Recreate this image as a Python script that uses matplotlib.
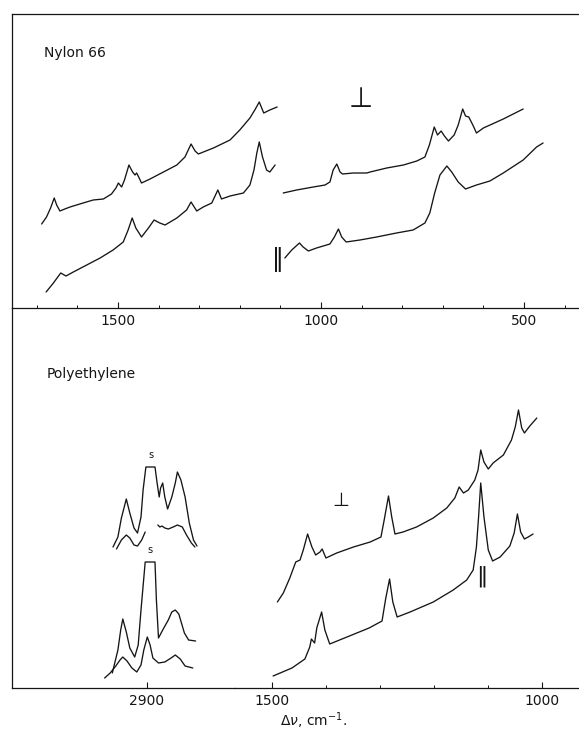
import matplotlib
matplotlib.use("Agg")
import matplotlib.pyplot as plt
from matplotlib.ticker import FixedLocator, NullFormatter

# ---------------- Nylon 66 (wavenumber cm-1, intensity a.u.) ----------------
nylon_perp_low_wn = [1688, 1676, 1666, 1657, 1651, 1643, 1631, 1618, 1594, 1561, 1536, 1516, 1505,
                     1499, 1491, 1484, 1473, 1464, 1458, 1454, 1449, 1442, 1421, 1388, 1355, 1335,
                     1320, 1310, 1302, 1265, 1224, 1200, 1175, 1163, 1152, 1141, 1126, 1108]
nylon_perp_low_int = [84, 91, 100, 110, 103, 97, 99, 101, 104, 108, 109, 114, 120,
                      125, 121, 128, 143, 136, 133, 135, 131, 125, 129, 136, 143, 151,
                      164, 157, 154, 160, 168, 178, 190, 198, 206, 195, 198, 201]

nylon_perp_high_wn = [1093, 1060, 1019, 990, 978, 970, 961, 953, 947, 920, 887, 879, 838, 797, 764,
                      744, 733, 721, 713, 704, 696, 686, 672, 662, 651, 644, 636, 626, 617, 600,
                      551, 502]
nylon_perp_high_int = [115, 118, 121, 123, 126, 138, 144, 136, 134, 135, 135, 136, 140, 143, 147,
                       151, 163, 181, 173, 177, 172, 167, 173, 183, 199, 192, 191, 183, 175, 180,
                       189, 199]

nylon_par_low_wn = [1677, 1659, 1641, 1628, 1610, 1577, 1544, 1512, 1487, 1475, 1465, 1456, 1442,
                    1425, 1411, 1397, 1384, 1355, 1331, 1320, 1306, 1290, 1269, 1254, 1245, 1224,
                    1191, 1175, 1165, 1158, 1152, 1144, 1134, 1126, 1113]
nylon_par_low_int = [16, 25, 35, 32, 36, 43, 50, 58, 66, 78, 90, 80, 71,
                     80, 88, 85, 83, 90, 98, 106, 97, 101, 105, 118, 109, 112,
                     115, 123, 138, 155, 166, 151, 138, 136, 143]

nylon_par_high_wn = [1089, 1072, 1053, 1044, 1031, 1011, 978, 967, 957, 949, 938, 904, 863, 814,
                     773, 744, 732, 720, 707, 690, 678, 662, 644, 617, 584, 551, 502, 469, 453]
nylon_par_high_int = [50, 58, 65, 61, 57, 60, 64, 71, 79, 71, 66, 68, 71, 75,
                      78, 85, 95, 115, 133, 142, 136, 126, 119, 123, 127, 135, 148, 161, 165]

nylon_ticks_major = [1500, 1000, 500]
nylon_ticks_minor = [1700, 1600, 1400, 1300, 1200, 1100, 900, 800, 700, 600, 400]

# ---------------- Polyethylene ----------------
pe_perp_wn = [1490, 1479, 1467, 1456, 1448, 1442, 1434, 1426, 1419, 1411, 1407, 1400, 1380, 1349,
              1318, 1298, 1292, 1284, 1278, 1272, 1257, 1232, 1201, 1176, 1161, 1153, 1145, 1136,
              1124, 1118, 1113, 1107, 1099, 1090, 1071, 1056, 1049, 1043, 1037, 1032, 1022, 1009]
pe_perp_int = [86, 95, 110, 126, 128, 138, 154, 141, 133, 136, 139, 130, 135, 141,
               146, 151, 168, 192, 171, 154, 156, 161, 170, 180, 190, 201, 195, 198,
               208, 218, 238, 226, 219, 225, 233, 248, 261, 278, 260, 255, 262, 270]

pe_par_wn = [1498, 1463, 1439, 1430, 1427, 1421, 1417, 1408, 1402, 1393, 1361, 1320, 1296, 1289,
             1282, 1276, 1268, 1244, 1201, 1164, 1139, 1127, 1121, 1117, 1113, 1107, 1099, 1091,
             1077, 1059, 1051, 1045, 1039, 1032, 1025, 1016]
pe_par_int = [12, 20, 29, 41, 49, 45, 60, 76, 58, 44, 51, 60, 67, 90,
              109, 86, 71, 76, 86, 98, 108, 118, 141, 171, 205, 171, 138, 127,
              131, 142, 155, 174, 156, 149, 151, 154]

# C-H stretching region, perpendicular (upper pair)
pe_ch_perp_strong_wn = [2948, 2941, 2936, 2929, 2924, 2918, 2913, 2908, 2905, 2901, 2888, 2885, 2882,
                        2880, 2877, 2874, 2870, 2864, 2859, 2856, 2851, 2845, 2839, 2833, 2828]
pe_ch_perp_strong_int = [141, 151, 170, 189, 175, 160, 155, 171, 198, 221, 221, 205, 191,
                         200, 205, 191, 179, 191, 205, 216, 208, 191, 165, 148, 142]
pe_ch_perp_weak_a_wn = [2943, 2936, 2929, 2924, 2918, 2913, 2907, 2902]
pe_ch_perp_weak_a_int = [139, 148, 153, 150, 143, 142, 148, 156]
pe_ch_perp_weak_b_wn = [2884, 2881, 2878, 2874, 2869, 2862, 2856, 2849, 2843, 2836, 2831]
pe_ch_perp_weak_b_int = [163, 161, 162, 160, 159, 161, 163, 161, 153, 145, 141]

# C-H stretching region, parallel (lower pair)
pe_ch_par_strong_wn = [2949, 2941, 2937, 2934, 2929, 2924, 2917, 2912, 2908, 2902, 2888, 2886, 2883,
                       2877, 2869, 2864, 2859, 2854, 2846, 2840, 2830]
pe_ch_par_strong_int = [15, 38, 58, 69, 56, 40, 31, 43, 78, 126, 126, 88, 50,
                        58, 68, 76, 78, 74, 55, 48, 47]
pe_ch_par_weak_wn = [2960, 2952, 2944, 2938, 2934, 2928, 2921, 2914, 2908, 2904, 2899, 2895, 2891,
                     2883, 2874, 2865, 2859, 2852, 2845, 2834]
pe_ch_par_weak_int = [10, 15, 22, 28, 31, 27, 20, 16, 23, 38, 51, 43, 30,
                      25, 26, 30, 33, 29, 22, 20]

pe_ticks_major_ch = [2900]
pe_ticks_major = [1500, 1000]
pe_ticks_minor = [1400, 1300, 1200, 1100]

# ---------------- figure ----------------
W, H = 579, 733
fig = plt.figure(figsize=(W / 100, H / 100), dpi=100)
plt.rcParams['font.family'] = ['DejaVu Sans']
INK = '#151515'
LW = 0.95


def fx(px):
    return px / W


def fy(py):
    return 1 - py / H


ax_top = fig.add_axes([fx(12), fy(308), 1 - fx(12), fy(14) - fy(308)])
ax_bl = fig.add_axes([fx(12), fy(688), fx(235) - fx(12), fy(308) - fy(688)])
ax_br = fig.add_axes([fx(235), fy(688), 1 - fx(235), fy(308) - fy(688)])

ax_top.set_xlim(1761, 364.5)
ax_top.set_ylim(0, 294)
ax_bl.set_xlim(3092.3, 2773.7)
ax_bl.set_ylim(0, 380)
ax_br.set_xlim(1568.6, 930.8)
ax_br.set_ylim(0, 380)

for ax in (ax_top, ax_bl, ax_br):
    ax.set_facecolor('none')
    for s in ax.spines.values():
        s.set_color(INK)
        s.set_linewidth(0.9)
    ax.spines['right'].set_visible(False)
    ax.set_yticks([])
    ax.tick_params(axis='x', which='major', direction='in', length=4.5, width=0.8,
                   color=INK, labelsize=10, pad=4, labelcolor=INK)
    ax.tick_params(axis='x', which='minor', direction='in', length=2.0, width=0.7, color=INK)
    ax.xaxis.set_minor_formatter(NullFormatter())

ax_top.spines['top'].set_visible(True)
ax_bl.spines['top'].set_visible(False)
ax_br.spines['top'].set_visible(False)
ax_br.spines['left'].set_visible(False)

ax_top.xaxis.set_major_locator(FixedLocator(nylon_ticks_major))
ax_top.xaxis.set_minor_locator(FixedLocator(nylon_ticks_minor))
ax_top.set_xticklabels([str(t) for t in nylon_ticks_major])
ax_bl.xaxis.set_major_locator(FixedLocator(pe_ticks_major_ch))
ax_bl.set_xticklabels([str(t) for t in pe_ticks_major_ch])
ax_br.xaxis.set_major_locator(FixedLocator(pe_ticks_major))
ax_br.xaxis.set_minor_locator(FixedLocator(pe_ticks_minor))
ax_br.set_xticklabels([str(t) for t in pe_ticks_major])

kw = dict(color=INK, lw=LW, solid_joinstyle='round', solid_capstyle='round')
ax_top.plot(nylon_perp_low_wn, nylon_perp_low_int, **kw)
ax_top.plot(nylon_perp_high_wn, nylon_perp_high_int, **kw)
ax_top.plot(nylon_par_low_wn, nylon_par_low_int, **kw)
ax_top.plot(nylon_par_high_wn, nylon_par_high_int, **kw)

ax_br.plot(pe_perp_wn, pe_perp_int, **kw)
ax_br.plot(pe_par_wn, pe_par_int, **kw)

ax_bl.plot(pe_ch_perp_strong_wn, pe_ch_perp_strong_int, **kw)
ax_bl.plot(pe_ch_perp_weak_a_wn, pe_ch_perp_weak_a_int, **kw)
ax_bl.plot(pe_ch_perp_weak_b_wn, pe_ch_perp_weak_b_int, **kw)
ax_bl.plot(pe_ch_par_strong_wn, pe_ch_par_strong_int, **kw)
ax_bl.plot(pe_ch_par_weak_wn, pe_ch_par_weak_int, **kw)

# polarization symbols and labels
ax_top.text(902, 201, '⊥', fontsize=20, ha='center', va='baseline', color=INK)
ax_top.text(1105, 49, '‖', fontsize=17, ha='center', va='center', color=INK)
ax_br.text(1372, 182, '⊥', fontsize=14, ha='center', va='baseline', color=INK)
ax_br.text(1111, 112, '‖', fontsize=16, ha='center', va='center', color=INK)
ax_bl.text(2894, 228, 's', fontsize=7, ha='center', va='bottom', color=INK)
ax_bl.text(2895, 133, 's', fontsize=7, ha='center', va='bottom', color=INK)

fig.text(fx(44), fy(53), 'Nylon 66', fontsize=10, ha='left', va='center', color=INK)
fig.text(fx(47), fy(374), 'Polyethylene', fontsize=10, ha='left', va='center', color=INK)
fig.text(fx(313), fy(721), r'$\Delta\nu$, cm$^{-1}$.', fontsize=10, ha='center', va='center',
         color=INK)

fig.savefig('out.png', dpi=100, facecolor='white')
